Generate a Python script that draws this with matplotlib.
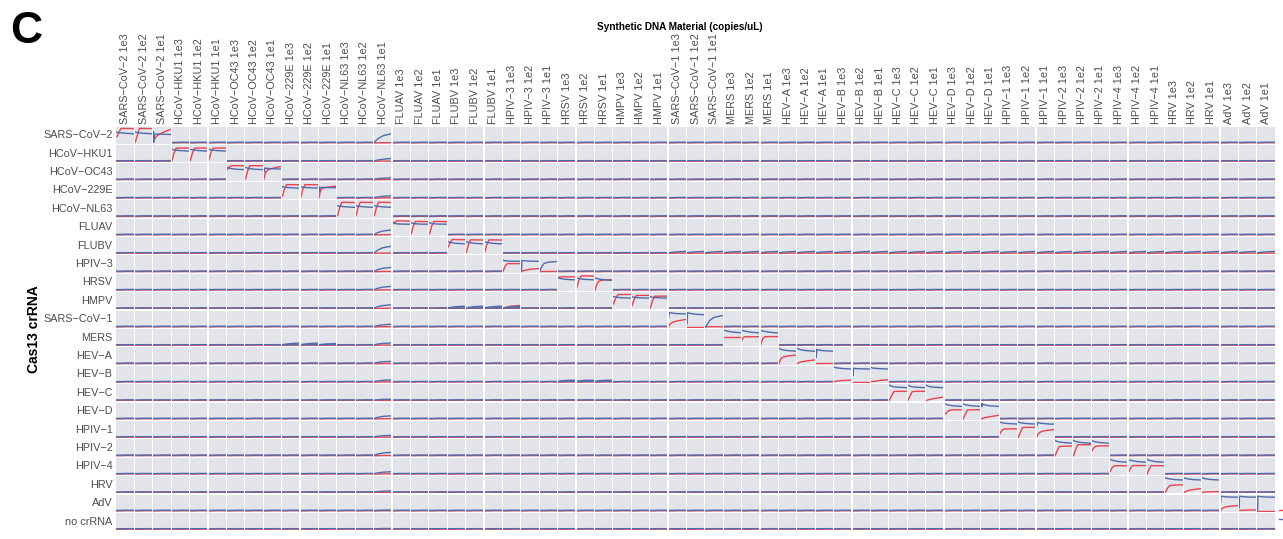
import matplotlib
matplotlib.use("Agg")
import matplotlib.pyplot as plt
from matplotlib.lines import Line2D

# ---- labels -------------------------------------------------------------
crrna_rows = ["SARS−CoV−2", "HCoV−HKU1", "HCoV−OC43", "HCoV−229E", "HCoV−NL63",
              "FLUAV", "FLUBV", "HPIV−3", "HRSV", "HMPV", "SARS−CoV−1", "MERS",
              "HEV−A", "HEV−B", "HEV−C", "HEV−D", "HPIV−1", "HPIV−2", "HPIV−4",
              "HRV", "AdV", "no crRNA"]
target_names = crrna_rows[:21]
copy_levels = ["1e3", "1e2", "1e1"]
column_labels = [f"{t} {c}" for t in target_names for c in copy_levels]

# time points (min) and normalised fluorescence per row
time_min = [0, 1, 3, 7, 15, 30, 60]

# matched crRNA / target cells, in column order
diag_red = [
    [0.40, 0.43, 0.50, 0.66, 0.95, 0.95, 0.94], [0.04, 0.08, 0.20, 0.45, 0.95, 0.95, 0.94], [0.03, 0.10, 0.22, 0.36, 0.50, 0.65, 0.88],
    [0.05, 0.10, 0.25, 0.52, 0.86, 0.87, 0.87], [0.05, 0.10, 0.25, 0.52, 0.86, 0.87, 0.87], [0.05, 0.10, 0.25, 0.52, 0.86, 0.87, 0.87],
    [0.66, 0.69, 0.74, 0.82, 0.92, 0.92, 0.91], [0.05, 0.10, 0.25, 0.55, 0.92, 0.92, 0.91], [0.03, 0.12, 0.30, 0.50, 0.66, 0.74, 0.87],
    [0.12, 0.16, 0.30, 0.57, 0.88, 0.88, 0.87], [0.05, 0.10, 0.25, 0.55, 0.88, 0.88, 0.87], [0.03, 0.15, 0.38, 0.56, 0.66, 0.72, 0.78],
    [0.05, 0.10, 0.25, 0.55, 0.93, 0.93, 0.92], [0.05, 0.10, 0.25, 0.55, 0.93, 0.93, 0.92], [0.05, 0.10, 0.25, 0.55, 0.93, 0.93, 0.92],
    [0.70, 0.72, 0.76, 0.83, 0.92, 0.92, 0.91], [0.07, 0.12, 0.26, 0.55, 0.88, 0.88, 0.87], [0.07, 0.12, 0.26, 0.55, 0.88, 0.88, 0.87],
    [0.40, 0.43, 0.50, 0.66, 0.90, 0.90, 0.89], [0.07, 0.12, 0.26, 0.55, 0.88, 0.88, 0.87], [0.07, 0.12, 0.26, 0.55, 0.88, 0.88, 0.87],
    [0.03, 0.08, 0.18, 0.36, 0.53, 0.53, 0.53], [0.00, 0.01, 0.03, 0.06, 0.10, 0.15, 0.20], [0.00, 0.00, 0.00, 0.01, 0.01, 0.01, 0.01],
    [0.84, 0.84, 0.85, 0.86, 0.87, 0.87, 0.87], [0.13, 0.18, 0.32, 0.60, 0.93, 0.93, 0.92], [0.00, 0.08, 0.22, 0.42, 0.60, 0.66, 0.68],
    [0.30, 0.34, 0.45, 0.65, 0.91, 0.92, 0.92], [0.18, 0.22, 0.33, 0.55, 0.85, 0.86, 0.86], [0.04, 0.09, 0.22, 0.48, 0.80, 0.81, 0.81],
    [0.00, 0.06, 0.14, 0.22, 0.31, 0.39, 0.48], [0.02, 0.02, 0.02, 0.02, 0.02, 0.02, 0.02], [0.00, 0.00, 0.00, 0.01, 0.01, 0.01, 0.01],
    [0.57, 0.57, 0.57, 0.57, 0.57, 0.57, 0.57], [0.36, 0.42, 0.50, 0.55, 0.56, 0.56, 0.56], [0.00, 0.08, 0.22, 0.42, 0.56, 0.57, 0.57],
    [0.00, 0.08, 0.22, 0.34, 0.44, 0.50, 0.57], [0.02, 0.03, 0.05, 0.08, 0.12, 0.17, 0.24], [0.00, 0.00, 0.00, 0.01, 0.01, 0.01, 0.01],
    [0.02, 0.03, 0.04, 0.06, 0.08, 0.10, 0.12], [0.02, 0.02, 0.02, 0.02, 0.02, 0.02, 0.02], [0.02, 0.02, 0.03, 0.04, 0.06, 0.10, 0.15],
    [0.02, 0.06, 0.14, 0.29, 0.58, 0.60, 0.60], [0.00, 0.04, 0.12, 0.28, 0.58, 0.60, 0.60], [0.00, 0.01, 0.02, 0.04, 0.08, 0.13, 0.22],
    [0.28, 0.30, 0.34, 0.42, 0.55, 0.60, 0.60], [0.00, 0.04, 0.12, 0.28, 0.58, 0.60, 0.60], [0.00, 0.01, 0.03, 0.05, 0.09, 0.14, 0.23],
    [0.24, 0.27, 0.33, 0.45, 0.55, 0.55, 0.55], [0.00, 0.05, 0.14, 0.32, 0.64, 0.65, 0.65], [0.00, 0.05, 0.14, 0.26, 0.36, 0.44, 0.50],
    [0.00, 0.05, 0.14, 0.32, 0.60, 0.62, 0.63], [0.00, 0.05, 0.16, 0.38, 0.72, 0.72, 0.72], [0.33, 0.36, 0.42, 0.52, 0.63, 0.64, 0.64],
    [0.18, 0.22, 0.30, 0.44, 0.55, 0.55, 0.55], [0.15, 0.19, 0.27, 0.42, 0.56, 0.56, 0.56], [0.00, 0.05, 0.15, 0.33, 0.55, 0.55, 0.55],
    [0.00, 0.05, 0.14, 0.28, 0.45, 0.48, 0.50], [0.00, 0.01, 0.03, 0.07, 0.12, 0.18, 0.25], [0.00, 0.00, 0.01, 0.02, 0.03, 0.04, 0.05],
    [0.02, 0.06, 0.12, 0.18, 0.25, 0.30, 0.34], [0.02, 0.02, 0.03, 0.03, 0.04, 0.05, 0.06], [0.01, 0.01, 0.01, 0.01, 0.01, 0.01, 0.01],
]
diag_blue = [
    [0.70, 0.70, 0.69, 0.68, 0.66, 0.63, 0.60], [0.70, 0.70, 0.69, 0.68, 0.66, 0.63, 0.60], [0.72, 0.08, 0.52, 0.58, 0.58, 0.57, 0.55],
    [0.78, 0.78, 0.77, 0.76, 0.73, 0.70, 0.67], [0.78, 0.78, 0.77, 0.76, 0.73, 0.70, 0.67], [0.78, 0.78, 0.77, 0.76, 0.73, 0.70, 0.67],
    [0.80, 0.79, 0.78, 0.76, 0.73, 0.69, 0.66], [0.80, 0.79, 0.78, 0.76, 0.73, 0.69, 0.66], [0.78, 0.50, 0.74, 0.75, 0.74, 0.72, 0.70],
    [0.75, 0.75, 0.74, 0.72, 0.70, 0.68, 0.65], [0.75, 0.75, 0.74, 0.72, 0.70, 0.68, 0.66], [0.72, 0.40, 0.68, 0.70, 0.70, 0.69, 0.68],
    [0.70, 0.70, 0.69, 0.68, 0.66, 0.63, 0.60], [0.70, 0.70, 0.69, 0.68, 0.66, 0.63, 0.60], [0.70, 0.70, 0.69, 0.68, 0.66, 0.63, 0.60],
    [0.85, 0.84, 0.81, 0.77, 0.72, 0.71, 0.70], [0.80, 0.79, 0.77, 0.75, 0.73, 0.71, 0.70], [0.80, 0.79, 0.77, 0.75, 0.73, 0.71, 0.70],
    [0.76, 0.75, 0.74, 0.72, 0.69, 0.65, 0.62], [0.76, 0.75, 0.74, 0.72, 0.69, 0.65, 0.62], [0.76, 0.75, 0.74, 0.72, 0.69, 0.65, 0.62],
    [0.75, 0.74, 0.73, 0.72, 0.70, 0.69, 0.68], [0.10, 0.74, 0.73, 0.72, 0.71, 0.69, 0.68], [0.02, 0.08, 0.20, 0.35, 0.55, 0.62, 0.67],
    [0.80, 0.79, 0.78, 0.76, 0.73, 0.70, 0.67], [0.80, 0.79, 0.78, 0.76, 0.73, 0.70, 0.67], [0.80, 0.79, 0.78, 0.75, 0.72, 0.68, 0.64],
    [0.78, 0.78, 0.77, 0.75, 0.73, 0.70, 0.68], [0.76, 0.76, 0.75, 0.74, 0.72, 0.70, 0.68], [0.76, 0.76, 0.75, 0.74, 0.72, 0.70, 0.68],
    [0.62, 0.95, 0.94, 0.92, 0.90, 0.87, 0.85], [0.20, 0.93, 0.92, 0.90, 0.87, 0.83, 0.80], [0.00, 0.02, 0.08, 0.20, 0.42, 0.62, 0.74],
    [1.00, 0.99, 0.97, 0.95, 0.92, 0.87, 0.82], [0.99, 0.98, 0.96, 0.94, 0.91, 0.86, 0.81], [0.99, 0.98, 0.96, 0.94, 0.91, 0.86, 0.81],
    [1.00, 0.99, 0.97, 0.94, 0.90, 0.86, 0.82], [1.00, 0.99, 0.97, 0.94, 0.90, 0.86, 0.82], [0.95, 0.42, 0.92, 0.90, 0.88, 0.85, 0.82],
    [0.98, 0.97, 0.96, 0.94, 0.92, 0.89, 0.86], [0.92, 0.42, 0.90, 0.89, 0.88, 0.87, 0.86], [0.95, 0.94, 0.93, 0.92, 0.90, 0.88, 0.86],
    [1.00, 0.99, 0.97, 0.94, 0.90, 0.87, 0.84], [1.00, 0.99, 0.97, 0.94, 0.90, 0.87, 0.84], [1.00, 0.99, 0.97, 0.94, 0.90, 0.87, 0.84],
    [1.00, 0.99, 0.97, 0.94, 0.90, 0.86, 0.82], [1.00, 0.99, 0.97, 0.94, 0.90, 0.86, 0.82], [1.00, 0.80, 0.97, 0.94, 0.90, 0.86, 0.82],
    [1.00, 0.99, 0.98, 0.96, 0.93, 0.90, 0.87], [1.00, 0.99, 0.98, 0.96, 0.93, 0.90, 0.87], [1.00, 0.78, 0.97, 0.95, 0.92, 0.89, 0.86],
    [1.00, 0.99, 0.97, 0.94, 0.90, 0.86, 0.82], [1.00, 0.99, 0.97, 0.94, 0.90, 0.86, 0.82], [1.00, 0.99, 0.97, 0.94, 0.90, 0.86, 0.82],
    [0.96, 0.95, 0.93, 0.91, 0.87, 0.82, 0.78], [0.96, 0.95, 0.93, 0.91, 0.87, 0.82, 0.78], [0.96, 0.95, 0.93, 0.91, 0.87, 0.82, 0.78],
    [0.96, 0.95, 0.94, 0.92, 0.89, 0.85, 0.82], [0.96, 0.95, 0.94, 0.92, 0.89, 0.85, 0.82], [0.96, 0.95, 0.94, 0.92, 0.89, 0.85, 0.82],
    [0.60, 0.97, 0.96, 0.95, 0.93, 0.91, 0.90], [0.20, 0.97, 0.96, 0.95, 0.93, 0.91, 0.90], [0.00, 0.97, 0.96, 0.95, 0.93, 0.91, 0.90],
]

# unmatched cells: background signal
baseline_red = [0.00, 0.00, 0.00, 0.00, 0.00, 0.01, 0.01]
baseline_blue = [0.03, 0.03, 0.03, 0.03, 0.03, 0.04, 0.04]

# HCoV-NL63 1e1 well: rising blue trace in other crRNA rows (row index -> trace)
nl63_1e1_blue = {
    0: [0.03, 0.05, 0.09, 0.17, 0.30, 0.46, 0.60],
    1: [0.02, 0.03, 0.04, 0.06, 0.09, 0.13, 0.18],
    2: [0.02, 0.02, 0.03, 0.05, 0.07, 0.09, 0.12],
    3: [0.02, 0.03, 0.04, 0.05, 0.08, 0.11, 0.15],
    5: [0.02, 0.04, 0.06, 0.10, 0.17, 0.25, 0.32],
    6: [0.03, 0.05, 0.08, 0.14, 0.24, 0.36, 0.46],
    7: [0.02, 0.03, 0.05, 0.09, 0.15, 0.22, 0.28],
    8: [0.02, 0.03, 0.05, 0.08, 0.13, 0.19, 0.24],
    9: [0.02, 0.03, 0.05, 0.08, 0.13, 0.19, 0.24],
    10: [0.02, 0.03, 0.04, 0.06, 0.09, 0.13, 0.17],
    11: [0.02, 0.03, 0.04, 0.06, 0.09, 0.12, 0.15],
    12: [0.02, 0.03, 0.04, 0.06, 0.09, 0.12, 0.15],
    13: [0.02, 0.03, 0.04, 0.06, 0.08, 0.11, 0.14],
    14: [0.02, 0.02, 0.03, 0.04, 0.05, 0.07, 0.08],
    15: [0.02, 0.03, 0.05, 0.07, 0.11, 0.16, 0.20],
    16: [0.02, 0.03, 0.04, 0.05, 0.07, 0.10, 0.12],
    17: [0.02, 0.03, 0.05, 0.08, 0.12, 0.17, 0.22],
    18: [0.02, 0.03, 0.04, 0.06, 0.08, 0.12, 0.15],
    19: [0.02, 0.02, 0.03, 0.04, 0.06, 0.08, 0.10],
    20: [0.02, 0.02, 0.02, 0.03, 0.04, 0.05, 0.05],
    21: [0.02, 0.02, 0.02, 0.03, 0.04, 0.05, 0.05],
}

# FLUBV crRNA: slight blue drift in the later target wells
flubv_drift_cols = list(range(30, 63))
flubv_drift_blue = [0.03, 0.03, 0.04, 0.05, 0.07, 0.09, 0.12]

# other weak off-target traces: (row, column, channel, trace)
weak_traces = [
    (9, 18, "blue", [0.02, 0.03, 0.04, 0.06, 0.09, 0.12, 0.15]),
    (9, 19, "blue", [0.02, 0.03, 0.04, 0.06, 0.09, 0.12, 0.15]),
    (9, 20, "blue", [0.02, 0.03, 0.04, 0.06, 0.09, 0.12, 0.15]),
    (9, 21, "red", [0.00, 0.01, 0.03, 0.06, 0.10, 0.15, 0.20]),
    (9, 21, "blue", [0.02, 0.03, 0.04, 0.06, 0.08, 0.11, 0.14]),
    (11, 9, "blue", [0.03, 0.03, 0.04, 0.06, 0.08, 0.11, 0.14]),
    (11, 10, "blue", [0.03, 0.03, 0.04, 0.06, 0.08, 0.11, 0.14]),
    (11, 11, "blue", [0.03, 0.03, 0.04, 0.05, 0.07, 0.09, 0.11]),
    (13, 24, "blue", [0.03, 0.04, 0.05, 0.07, 0.09, 0.11, 0.12]),
    (13, 25, "blue", [0.03, 0.04, 0.05, 0.07, 0.09, 0.11, 0.12]),
    (13, 26, "blue", [0.03, 0.04, 0.05, 0.07, 0.09, 0.11, 0.12]),
]

red = "#E8434F"
blue = "#4F6BAE"
panel_bg = "#E3E3EA"
tick_grey = "#4D4D4D"
line_w = 1.0

W, H = 1283, 539
fig = plt.figure(figsize=(W / 100, H / 100), dpi=100)
fig.patch.set_facecolor("white")

grid_left, grid_right = 116.5, 1275.7
grid_top, grid_bottom = 126.6, 531.4
n_rows, n_cols = len(crrna_rows), len(column_labels)
pitch_w = (grid_right - grid_left) / n_cols
pitch_h = (grid_bottom - grid_top) / n_rows
gap = 1.1

for r in range(n_rows):
    for c in range(n_cols):
        x0 = grid_left + c * pitch_w
        y0 = grid_top + r * pitch_h
        ax = fig.add_axes([x0 / W, 1 - (y0 + pitch_h - gap) / H,
                           (pitch_w - gap) / W, (pitch_h - gap) / H])
        ax.set_facecolor(panel_bg)
        ax.set_xticks([])
        ax.set_yticks([])
        for sp in ax.spines.values():
            sp.set_visible(False)
        ax.set_xlim(-1, 61)
        ax.set_ylim(-0.07, 1.07)

        if r < 21 and c // 3 == r:
            rv, bv = diag_red[c], diag_blue[c]
        else:
            rv, bv = baseline_red, baseline_blue
            if c == 14 and r in nl63_1e1_blue:
                bv = nl63_1e1_blue[r]
            if r == 6 and c in flubv_drift_cols:
                bv = flubv_drift_blue
        ax.plot(time_min, rv, color=red, lw=line_w, solid_joinstyle="round")
        ax.plot(time_min, bv, color=blue, lw=line_w, solid_joinstyle="round")
        for (wr, wc, ch, vals) in weak_traces:
            if wr == r and wc == c:
                ax.plot(time_min, vals, color=red if ch == "red" else blue, lw=line_w)

label_font = ["Liberation Sans", "DejaVu Sans"]

for c, lab in enumerate(column_labels):
    xc = grid_left + (c + 0.5) * pitch_w - gap / 2
    fig.text(xc / W, 1 - (grid_top - 3) / H, lab, rotation=90, ha="center", va="bottom",
             fontsize=7.8, color=tick_grey, family=label_font)

for r, lab in enumerate(crrna_rows):
    yc = grid_top + (r + 0.5) * pitch_h - gap / 2
    fig.text((grid_left - 4) / W, 1 - yc / H, lab, ha="right", va="center",
             fontsize=7.8, color=tick_grey, family=label_font)

fig.text(680 / W, 1 - 27.5 / H, "Synthetic DNA Material (copies/uL)", ha="center", va="center",
         fontsize=7.2, fontweight="bold", color="black", family=label_font)
fig.text(34 / W, 1 - (grid_top + grid_bottom) / 2 / H, "Cas13 crRNA", rotation=90,
         ha="center", va="center", fontsize=10, fontweight="bold", color="black", family=label_font)
fig.text(10 / W, 1 - 11 / H, "C", ha="left", va="top", fontsize=32, fontweight="bold",
         color="black", family=label_font)

# key glyphs at the right margin
for y_px, col in ((510, red), (519, blue)):
    fig.add_artist(Line2D([1279 / W, 1290 / W], [1 - y_px / H, 1 - y_px / H],
                          color=col, lw=line_w, transform=fig.transFigure))

fig.savefig("out.png", dpi=100, facecolor="white")
